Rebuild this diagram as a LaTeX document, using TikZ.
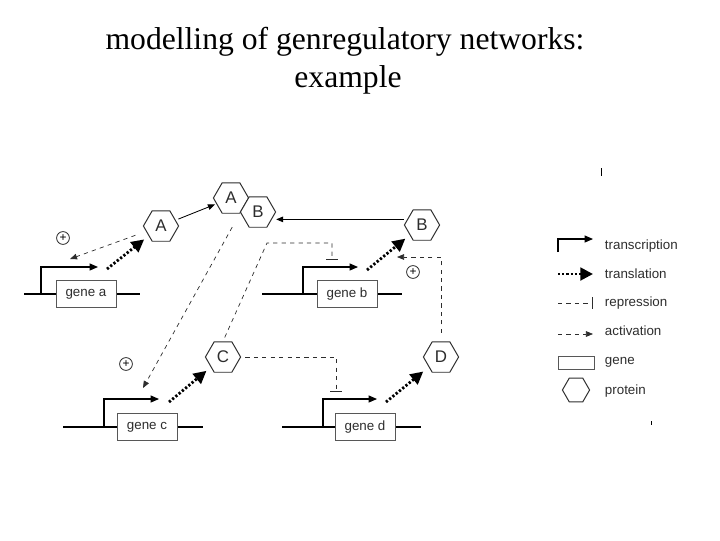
\documentclass[tikz,border=0pt]{standalone}
\usepackage{fontspec}
\setmainfont{Liberation Sans}
\newfontfamily\titlefont{Liberation Serif}
\usepackage{tikz}
\usetikzlibrary{shapes.geometric, arrows.meta, positioning, calc}
\definecolor{inkgray}{RGB}{45,45,45}

\begin{document}
\begin{tikzpicture}[x=0.025cm,y=-0.025cm,
    genebox/.style={rectangle,draw=inkgray!80,fill=white,line width=0.6pt,minimum width=1.5cm,minimum height=0.67cm,inner sep=0pt,font=\fontsize{9.5}{11}\selectfont,text=inkgray},
    prot/.style={regular polygon,regular polygon sides=6,draw=inkgray,line width=0.7pt,fill=white,minimum size=0.88cm,inner sep=0pt,font=\fontsize{12}{12}\selectfont,text=inkgray},
    dna/.style={line width=2pt},
    transc/.style={line width=0.8pt,-{Triangle[length=6pt,width=5pt]}},
    transl/.style={line width=2pt,dash pattern=on 1.6pt off 1.4pt,-{Triangle[length=9pt,width=9pt]}},
    activ/.style={dashed,line width=0.5pt,draw=inkgray,-{Triangle[length=5pt,width=4pt]}},
    repr/.style={dashed,line width=0.5pt,draw=inkgray,-{Bar[width=8pt,line width=0.6pt]}},
    bind/.style={line width=0.6pt,-{Triangle[length=5pt,width=4pt]}},
    plus/.style={circle,draw=inkgray,line width=0.6pt,inner sep=0pt,minimum size=0.32cm,font=\fontsize{8.5}{8.5}\selectfont},
    legtext/.style={anchor=west,font=\fontsize{9.5}{11}\selectfont,text=inkgray},
    titletext/.style={anchor=base,font=\titlefont\fontsize{22.5}{27}\selectfont}]
    \useasboundingbox (0,0) rectangle (720,540);

    % Titel
    \node[titletext] (title1) at (345,49) {modelling of genregulatory networks:};
    \node[titletext] (title2) at (348,87) {example};

    % Gene
    \draw[dna] (24,294) -- (140,294);
    \node[genebox] (genea) at (86,294) {gene a};
    \draw[dna] (262,294) -- (402,294);
    \node[genebox] (geneb) at (347,294) {gene b};
    \draw[dna] (63,427) -- (203,427);
    \node[genebox] (genec) at (147,427) {gene c};
    \draw[dna] (282,427) -- (421,427);
    \node[genebox] (gened) at (365,427) {gene d};

    % Proteine
    \node[prot] (protA) at (161,226) {A};
    \node[prot] (cplxA) at (231,198) {A};
    \node[prot] (cplxB) at (258,212) {B};
    \node[prot] (protB) at (422,225) {B};
    \node[prot] (protC) at (223,357) {C};
    \node[prot] (protD) at (441,357) {D};

    % Aktivatoren (+)
    \node[plus] (plusa) at (63,238) {\raisebox{-1.2pt}{+}};
    \node[plus] (plusb) at (413,272) {\raisebox{-1.2pt}{+}};
    \node[plus] (plusc) at (126,364) {\raisebox{-1.2pt}{+}};

    % Transkription
    \coordinate (proma) at (41,294);  \coordinate (tssa) at (98,267);
    \coordinate (promb) at (303,294); \coordinate (tssb) at (358,267);
    \coordinate (promc) at (104,427); \coordinate (tssc) at (159,399);
    \coordinate (promd) at (323,427); \coordinate (tssd) at (377,399);
    \draw[transc] (proma) |- (tssa);
    \draw[transc] (promb) |- (tssb);
    \draw[transc] (promc) |- (tssc);
    \draw[transc] (promd) |- (tssd);

    % Translation
    \coordinate (rnaa) at (107,269);
    \coordinate (rnab) at (367,270);
    \coordinate (rnac) at (169,402);
    \coordinate (rnad) at (386,402);
    \draw[transl,shorten >=4pt] (rnaa) -- (protA);
    \draw[transl,shorten >=4pt] (rnab) -- (protB);
    \draw[transl,shorten >=4pt] (rnac) -- (protC);
    \draw[transl,shorten >=5pt] (rnad) -- (protD);

    % Komplexbildung
    \draw[bind,shorten <=2pt,shorten >=1pt] (protA) -- (cplxA);
    \draw[bind] ([yshift=4pt]protB.west) -- ([yshift=4pt]protB.west -| cplxB.east);

    % Aktivierung
    \coordinate (acta) at (70,259);
    \coordinate (actb) at (397,257);
    \coordinate (actc) at (143,388);
    \draw[activ,shorten <=8pt] (protA) -- (acta);
    \draw[activ,shorten <=6pt] (protD.north) |- (actb);
    \draw[activ,shorten <=18pt] ($(cplxA)!0.5!(cplxB)$) -- (actc);

    % Repression
    \coordinate (bendb) at (267,243);
    \coordinate (reprb) at (332,260);
    \coordinate (reprd) at (336,392);
    \draw[repr,shorten <=3pt] (protC.north) -- (bendb) -| (reprb);
    \draw[repr,shorten <=3pt] (protC.east) -| (reprd);

    % Legende
    \draw[line width=0.6pt] (601,168) -- (601,176);
    \draw[line width=0.4pt] (651,421) -- (651,425);
    \draw[transc] (558,252) |- (593,239);
    \node[legtext] (lt1) at (600,246) {transcription};
    \draw[transl] (558,274) -- (593,274);
    \node[legtext] (lt2) at (600,274) {translation};
    \draw[repr] (558,303) -- (593,303);
    \node[legtext] (lt3) at (600,303) {repression};
    \draw[activ] (558,334) -- (593,334);
    \node[legtext] (lt4) at (600,331) {activation};
    \node[genebox,minimum width=0.9cm,minimum height=0.33cm] (leggene) at (576,363) {};
    \node[legtext] (lt5) at (600,362) {gene};
    \node[prot,minimum size=0.68cm] (legprot) at (576,390) {};
    \node[legtext] (lt6) at (600,391) {protein};
\end{tikzpicture}
\end{document}
